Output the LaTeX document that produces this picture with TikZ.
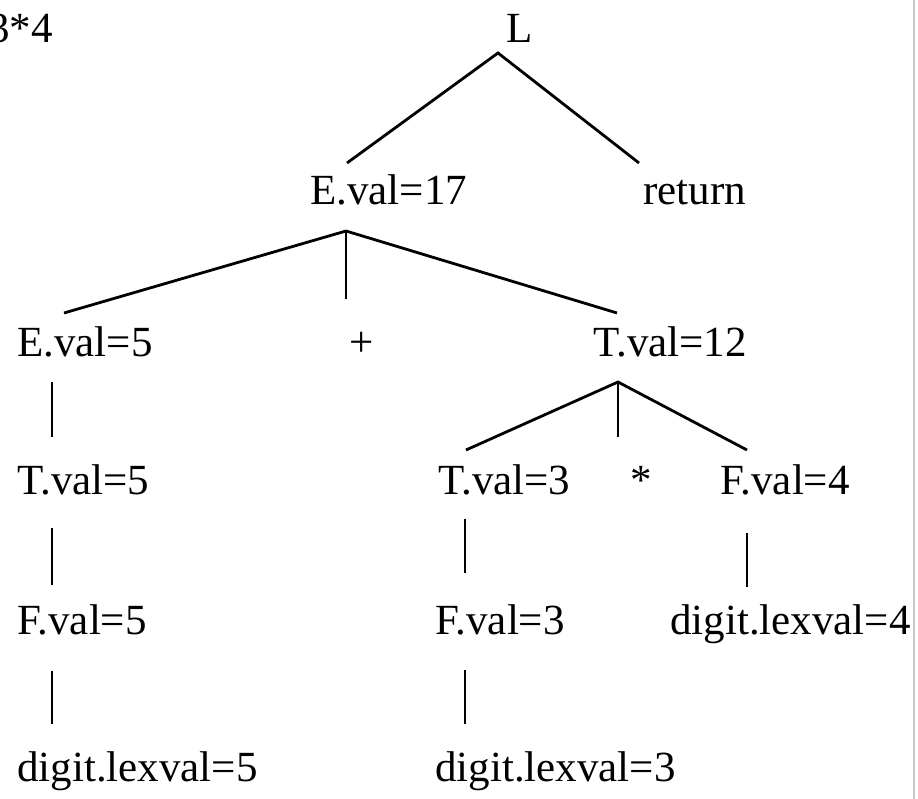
\documentclass[tikz,border=0pt]{standalone}
\usepackage{fontspec}
\setmainfont{Liberation Serif}
\usepackage{tikz}

\tikzset{
  sym/.style={inner sep=0pt, anchor=base west, font=\fontsize{43}{50}\selectfont},
  edge/.style={line width=2.8pt},
}

\begin{document}
\begin{tikzpicture}[x=1pt, y=-1pt]
  \useasboundingbox (0,0) rectangle (918,799);

  % expression (cut at the left edge) and root
  \node (expr) [sym, anchor=base east] at (53,43) {3*4};
  \node (L) [sym] at (506,43) {L};

  % second row
  \node (E17) [sym] at (310,205) {E.val=17};
  \node (ret) [sym] at (643,205) {return};
  \coordinate (Lfork) at ([shift={(-8,10)}]L.base west);
  \draw[edge] ([shift={(37,-42)}]E17.base west) -- (Lfork) -- ([shift={(-4,-42)}]ret.base west);

  % third row
  \node (E5) [sym] at (17,357) {E.val=5};
  \node (plus) [sym, anchor=base] at (362,357) {+};
  \node (T12) [sym] at (593,357) {T.val=12};
  \coordinate (Efork) at ([shift={(36,26)}]E17.base west);
  \draw[edge] ([shift={(47,-44)}]E5.base west) -- (Efork) -- ([shift={(24,-44)}]T12.base west);
  \draw[edge] (Efork) -- ([shift={(-16,-58)}]plus.base);

  % fourth row
  \node (T5) [sym] at (17,494) {T.val=5};
  \node (T3) [sym] at (438,494) {T.val=3};
  \node (star) [sym, anchor=base] at (641,494) {*};
  \node (F4) [sym] at (720,494) {F.val=4};
  \draw[edge] ([shift={(35,25)}]E5.base west) -- ([shift={(35,-57)}]T5.base west);
  \coordinate (Tfork) at ([shift={(25,25)}]T12.base west);
  \draw[edge] ([shift={(28,-44)}]T3.base west) -- (Tfork) -- ([shift={(27,-44)}]F4.base west);
  \draw[edge] (Tfork) -- ([shift={(-23,-57)}]star.base);

  % fifth row
  \node (F5) [sym] at (17,634) {F.val=5};
  \node (F3) [sym] at (435,634) {F.val=3};
  \node (d4) [sym] at (670,634) {digit.lexval=4};
  \draw[edge] ([shift={(35,34)}]T5.base west) -- ([shift={(35,-49)}]F5.base west);
  \draw[edge] ([shift={(27,25)}]T3.base west) -- ([shift={(30,-61)}]F3.base west);
  \draw[edge] ([shift={(27,39)}]F4.base west) -- ([shift={(77,-47)}]d4.base west);

  % leaves
  \node (d5) [sym] at (17,781) {digit.lexval=5};
  \node (d3) [sym] at (435,781) {digit.lexval=3};
  \draw[edge] ([shift={(35,37)}]F5.base west) -- ([shift={(35,-57)}]d5.base west);
  \draw[edge] ([shift={(30,36)}]F3.base west) -- ([shift={(30,-57)}]d3.base west);

  % frame edge on the right
  \draw[gray!45, line width=2pt] (914,0) -- (914,799);
\end{tikzpicture}
\end{document}
